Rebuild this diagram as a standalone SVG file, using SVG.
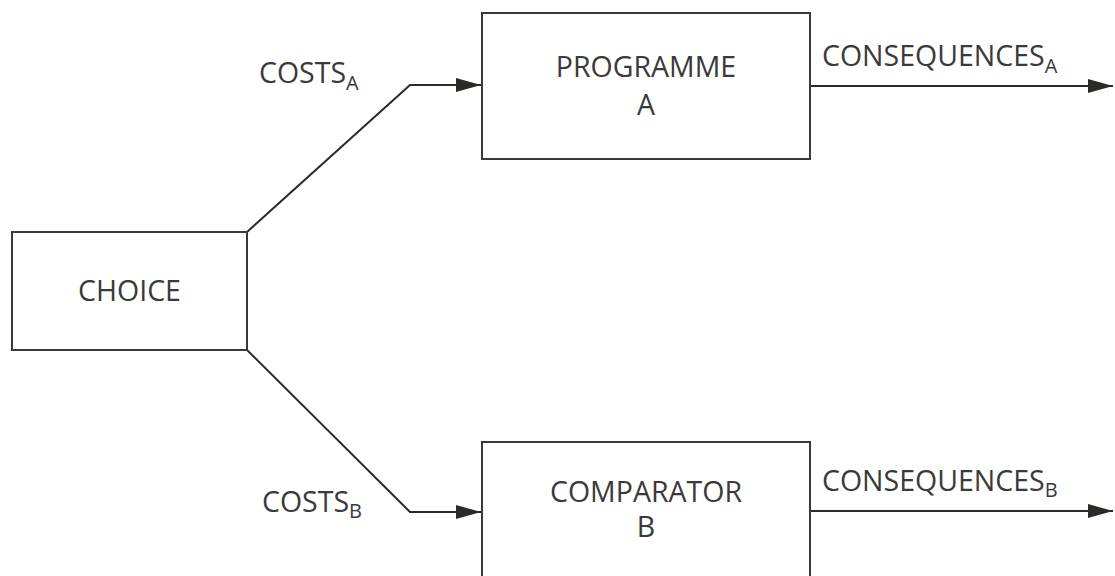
<svg xmlns="http://www.w3.org/2000/svg" width="1115" height="576" viewBox="0 0 1115 576">
<style>
.box{fill:#fff;stroke:#3a3a36;stroke-width:2}
.conn{fill:none;stroke:#2a2a26;stroke-width:2}
text{font-family:"Open Sans","Liberation Sans",sans-serif;font-size:28.5px;fill:#3a3a3a}
.c{text-anchor:middle}
.sub{font-size:20px}
</style>
<defs>
<marker id="arr" markerUnits="userSpaceOnUse" markerWidth="26" markerHeight="16" refX="25" refY="7" orient="auto">
<path d="M0,0 L25,7 L0,14 Z" fill="#2a2a26"/>
</marker>
</defs>
<rect width="1115" height="576" fill="#fff"/>
<g id="connectors">
<polyline class="conn" points="247,232 410,85 481,85" marker-end="url(#arr)"/>
<polyline class="conn" points="247,350 410,512 481,512" marker-end="url(#arr)"/>
<line class="conn" x1="810" y1="86" x2="1113" y2="86" marker-end="url(#arr)"/>
<line class="conn" x1="810" y1="511" x2="1113" y2="511" marker-end="url(#arr)"/>
</g>
<g id="choice">
<rect class="box" x="12" y="232" width="235" height="118"/>
<text class="c" x="129.5" y="301">CHOICE</text>
</g>
<g id="programmeA">
<rect class="box" x="482" y="13" width="328" height="146"/>
<text class="c" x="646" y="77">PROGRAMME</text>
<text class="c" x="646" y="115">A</text>
</g>
<g id="comparatorB">
<rect class="box" x="482" y="442" width="328" height="150"/>
<text class="c" x="646" y="502">COMPARATOR</text>
<text class="c" x="646" y="537">B</text>
</g>
<g id="labels">
<text x="259" y="83">COSTS<tspan class="sub" dy="7">A</tspan></text>
<text x="262" y="512">COSTS<tspan class="sub" dy="6">B</tspan></text>
<text x="822" y="66">CONSEQUENCES<tspan class="sub" dy="7">A</tspan></text>
<text x="822" y="491">CONSEQUENCES<tspan class="sub" dy="6">B</tspan></text>
</g>
</svg>
